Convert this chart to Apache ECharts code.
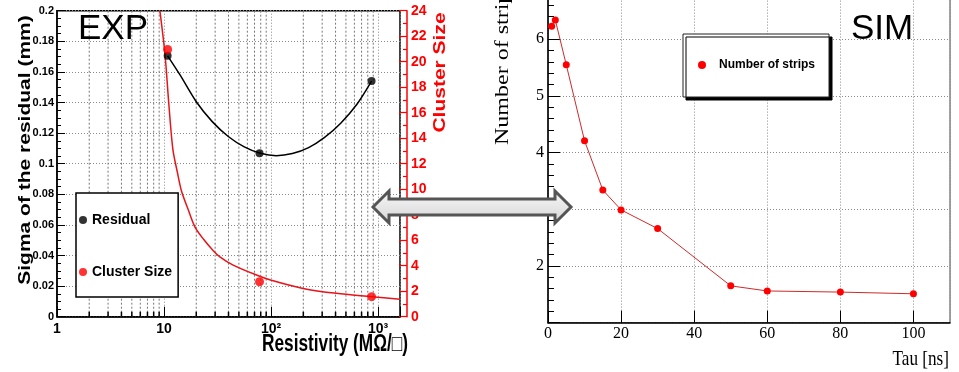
<!DOCTYPE html>
<html>
<head>
<meta charset="utf-8">
<script src="https://cdn.jsdelivr.net/npm/echarts@6/dist/echarts.min.js"></script>
<style>
  html, body { margin: 0; padding: 0; background: #fff; }
  #chart { width: 959px; height: 372px; }
</style>
</head>
<body>
<div id="chart"></div>
<script>
// EXP: measured points per resistive-layer sample
const resistivity = [10.8, 78, 868];
const residualSigma = [0.1705, 0.1068, 0.154];
const clusterSize = [20.96, 2.74, 1.57];

// EXP: fitted trends, sampled along each curve
const residualFitX = [10.8, 14.1, 20, 28.2, 39.8, 56.2, 79.4, 112, 158, 224, 316, 447, 631, 868];
const residualFitY = [0.1705, 0.158, 0.1405, 0.1275, 0.1178, 0.111, 0.1068, 0.1052, 0.1066, 0.1105, 0.1172, 0.1265, 0.1387, 0.154];
const clusterFitX = [9.14, 10.2, 11.1, 12.1, 13.3, 14.5, 16.8, 19.4, 23.5, 28.7, 33.2, 44.2, 73, 98.7, 199, 408, 867, 1600];
const clusterFitY = [24.0, 20.6, 16.6, 13.1, 11.35, 9.9, 8.4, 7.05, 6.05, 5.2, 4.7, 4.05, 3.27, 2.88, 2.22, 1.83, 1.57, 1.36];

// SIM: strip multiplicity vs. signal time constant
const tau = [1, 2, 5, 10, 15, 20, 30, 50, 60, 80, 100];
const strips = [6.23, 6.34, 5.55, 4.21, 3.34, 2.99, 2.66, 1.65, 1.56, 1.54, 1.51];

// Log-axis tick values
const decadeLabels = { 1: '1', 10: '10', 100: '10\u00B2', 1000: '10\u00B3' };
const resistivityMinorTicks = [2, 3, 4, 5, 6, 7, 8, 9, 20, 30, 40, 50, 60, 70, 80, 90,
                               200, 300, 400, 500, 600, 700, 800, 900];

const SANS = "'Liberation Sans', Arial, sans-serif";
const SERIF = "'Liberation Serif', 'Times New Roman', serif";
const RED = '#ff0000';

const zip = (xs, ys) => xs.map((x, i) => [x, ys[i]]);

const gridDots = { type: [1, 2], color: '#8a8a8a', width: 1 };

// Sub-decade helpers: broken polylines, one vertical segment per value
const minorGridData = resistivityMinorTicks.flatMap(v => [[v, 0], [v, 0.2], '-']);
const minorTickData = resistivityMinorTicks.flatMap(v => [[v, 0], [v, 0.0033], '-']);

const chart = echarts.init(document.getElementById('chart'), null, { renderer: 'canvas' });

chart.setOption({
  animation: false,
  backgroundColor: '#fff',
  grid: [
    { left: 57, top: 10.7, width: 343, height: 306, show: true,
      borderColor: '#000', borderWidth: 1.5, backgroundColor: 'transparent',
      outerBoundsMode: 'none', containLabel: false },
    { left: 548, top: -17.4, width: 402, height: 340.1, show: true,
      borderColor: '#444', borderWidth: 1, backgroundColor: 'transparent',
      outerBoundsMode: 'none', containLabel: false }
  ],
  xAxis: [
    { type: 'log', gridIndex: 0, logBase: 10, min: 1, max: 1600, splitNumber: 3,
      axisLine: { lineStyle: { color: '#000', width: 1.5 } },
      axisTick: { inside: true, length: 10, lineStyle: { color: '#000', width: 1 } },
      axisLabel: {
        margin: 5, fontFamily: SANS, fontWeight: 'bold', fontSize: 14, color: '#000',
        formatter: v => {
          const p = Math.log10(v);
          return Math.abs(p - Math.round(p)) < 1e-6 ? (decadeLabels[Math.round(Math.pow(10, Math.round(p)))] || '') : '';
        }
      },
      splitLine: { show: true, lineStyle: gridDots }
    },
    { type: 'value', gridIndex: 1, min: 0, max: 110, interval: 20,
      axisLine: { lineStyle: { color: '#000', width: 1.5 } },
      axisTick: { inside: true, length: 12, lineStyle: { color: '#000', width: 1 } },
      axisLabel: { margin: 3, fontFamily: SERIF, fontSize: 16, color: '#000', showMaxLabel: false },
      splitLine: { show: true, lineStyle: gridDots }
    },
    { type: 'value', gridIndex: 1, min: 0, max: 110, interval: 5,
      axisLine: { show: false },
      axisTick: { inside: true, length: 6, lineStyle: { color: '#000', width: 1 } },
      axisLabel: { show: false },
      splitLine: { show: false }
    }
  ],
  yAxis: [
    { type: 'value', gridIndex: 0, position: 'left', min: 0, max: 0.2, interval: 0.02,
      axisLine: { show: true, lineStyle: { color: '#000', width: 1.5 } },
      axisTick: { show: true, inside: true, length: 8, lineStyle: { color: '#000' } },
      minorTick: { show: true, splitNumber: 4, length: 4, lineStyle: { color: '#000' } },
      axisLabel: { margin: 3, fontFamily: SANS, fontWeight: 'bold', fontSize: 11, color: '#000',
        formatter: v => String(parseFloat(v.toFixed(2))) },
      splitLine: { show: true, lineStyle: gridDots }
    },
    { type: 'value', gridIndex: 0, position: 'right', offset: 7, min: 0, max: 24, interval: 2,
      axisLine: { show: true, lineStyle: { color: RED, width: 1.5 } },
      axisTick: { show: true, inside: true, length: 8, lineStyle: { color: RED, width: 1.2 } },
      minorTick: { show: true, splitNumber: 2, length: 4, lineStyle: { color: RED, width: 1.2 } },
      axisLabel: { margin: 4, fontFamily: SANS, fontWeight: 'bold', fontSize: 14, color: RED },
      splitLine: { show: false }
    },
    { type: 'value', gridIndex: 1, position: 'left', min: 1, max: 7, interval: 1,
      axisLine: { show: true, lineStyle: { color: '#000', width: 1.5 } },
      axisTick: { show: true, inside: true, length: 12, lineStyle: { color: '#000' } },
      minorTick: { show: true, splitNumber: 5, length: 6, lineStyle: { color: '#000' } },
      axisLabel: { margin: 4, fontFamily: SERIF, fontSize: 16, color: '#000',
        showMinLabel: false, showMaxLabel: false },
      splitLine: { show: true, lineStyle: gridDots }
    }
  ],
  legend: [
    { left: 76, top: 193, orient: 'vertical', selectedMode: false, z: 20,
      data: [{ name: 'Residual', icon: 'circle' }, { name: 'Cluster Size', icon: 'circle' }],
      itemWidth: 8, itemHeight: 8, itemGap: 38,
      padding: [20, 6, 18, 3],
      backgroundColor: '#fff', borderColor: '#000', borderWidth: 1.5,
      textStyle: { fontFamily: SANS, fontWeight: 'bold', fontSize: 14, color: '#000' }
    },
    { left: 683, top: 34, orient: 'vertical', selectedMode: false, z: 20,
      data: [{ name: 'Number of strips', icon: 'circle' }],
      itemWidth: 8, itemHeight: 8,
      padding: [25, 14, 26, 15],
      backgroundColor: '#fff', borderColor: '#222', borderWidth: 1,
      shadowColor: '#000', shadowBlur: 0, shadowOffsetX: 3, shadowOffsetY: 3,
      textStyle: { fontFamily: SANS, fontWeight: 'bold', fontSize: 12, color: '#000',
        padding: [0, 0, 0, 8] }
    }
  ],
  series: [
    { name: 'decade gridlines', type: 'line', xAxisIndex: 0, yAxisIndex: 0,
      data: minorGridData, symbol: 'none', showSymbol: false, connectNulls: false, silent: true, z: 3,
      lineStyle: { type: [2, 2], color: '#777', width: 1 }
    },
    { name: 'decade ticks', type: 'line', xAxisIndex: 0, yAxisIndex: 0,
      data: minorTickData, symbol: 'none', showSymbol: false, connectNulls: false, silent: true, z: 4,
      lineStyle: { color: '#000', width: 1.5 }
    },
    { name: 'Residual fit', type: 'line', xAxisIndex: 0, yAxisIndex: 0,
      data: zip(residualFitX, residualFitY), symbol: 'none', smooth: 0.3,
      lineStyle: { color: '#000', width: 1.5 }, silent: true, z: 5
    },
    { name: 'Cluster Size fit', type: 'line', xAxisIndex: 0, yAxisIndex: 1,
      data: zip(clusterFitX, clusterFitY), symbol: 'none', smooth: 0.3,
      lineStyle: { color: '#e8141a', width: 1.5 }, silent: true, z: 5
    },
    { name: 'Residual', type: 'scatter', xAxisIndex: 0, yAxisIndex: 0,
      data: zip(resistivity, residualSigma), symbol: 'circle', symbolSize: 8,
      itemStyle: { color: '#000' }, z: 6
    },
    { name: 'Cluster Size', type: 'scatter', xAxisIndex: 0, yAxisIndex: 1,
      data: zip(resistivity, clusterSize), symbol: 'circle', symbolSize: 9,
      itemStyle: { color: RED }, z: 6
    },
    { name: 'Number of strips', type: 'line', xAxisIndex: 1, yAxisIndex: 2,
      data: zip(tau, strips), symbol: 'circle', symbolSize: 7, showSymbol: true,
      itemStyle: { color: RED }, lineStyle: { color: '#cf2a2a', width: 1 }, z: 6
    }
  ],
  graphic: [
    { type: 'text', x: 78, y: 29.5, z: 50,
      style: { text: 'EXP', fontFamily: SANS, fontSize: 35, fill: '#000', align: 'left', verticalAlign: 'middle' } },
    { type: 'text', x: 851, y: 29, z: 50,
      style: { text: 'SIM', fontFamily: SANS, fontSize: 35, fill: '#000', align: 'left', verticalAlign: 'middle' } },
    { type: 'text', x: 25.5, y: 150, rotation: Math.PI / 2, scaleY: 0.78, z: 50,
      style: { text: 'Sigma of the residual (mm)', fontFamily: SANS, fontWeight: 'bold', fontSize: 21,
        fill: '#000', align: 'center', verticalAlign: 'middle' } },
    { type: 'text', x: 440.5, y: 72.5, rotation: Math.PI / 2, scaleY: 0.78, z: 50,
      style: { text: 'Cluster Size', fontFamily: SANS, fontWeight: 'bold', fontSize: 21,
        fill: RED, align: 'center', verticalAlign: 'middle' } },
    { type: 'text', x: 408, y: 345, scaleX: 0.75, z: 50,
      style: { text: 'Resistivity (M\u03A9/\u25A1)', fontFamily: SANS, fontWeight: 'bold', fontSize: 23,
        fill: '#000', align: 'right', verticalAlign: 'middle' } },
    { type: 'text', x: 503, y: 145, rotation: Math.PI / 2, scaleY: 0.8, z: 50,
      style: { text: 'Number of strips', fontFamily: SERIF, fontSize: 24,
        fill: '#000', align: 'left', verticalAlign: 'middle' } },
    { type: 'text', x: 949, y: 359, scaleX: 0.78, z: 50,
      style: { text: 'Tau [ns]', fontFamily: SERIF, fontSize: 22,
        fill: '#000', align: 'right', verticalAlign: 'middle' } },
    { type: 'polygon', z: 100,
      shape: { points: [[373, 207], [389, 191], [389, 199], [555, 199], [555, 191], [571, 207],
                        [555, 223], [555, 215], [389, 215], [389, 223]] },
      style: {
        fill: new echarts.graphic.LinearGradient(0, 0, 0, 1, [
          { offset: 0, color: '#f7f7f7' }, { offset: 1, color: '#d6d6d6' }
        ]),
        stroke: '#555', lineWidth: 3, lineJoin: 'miter'
      } }
  ]
});
</script>
</body>
</html>
